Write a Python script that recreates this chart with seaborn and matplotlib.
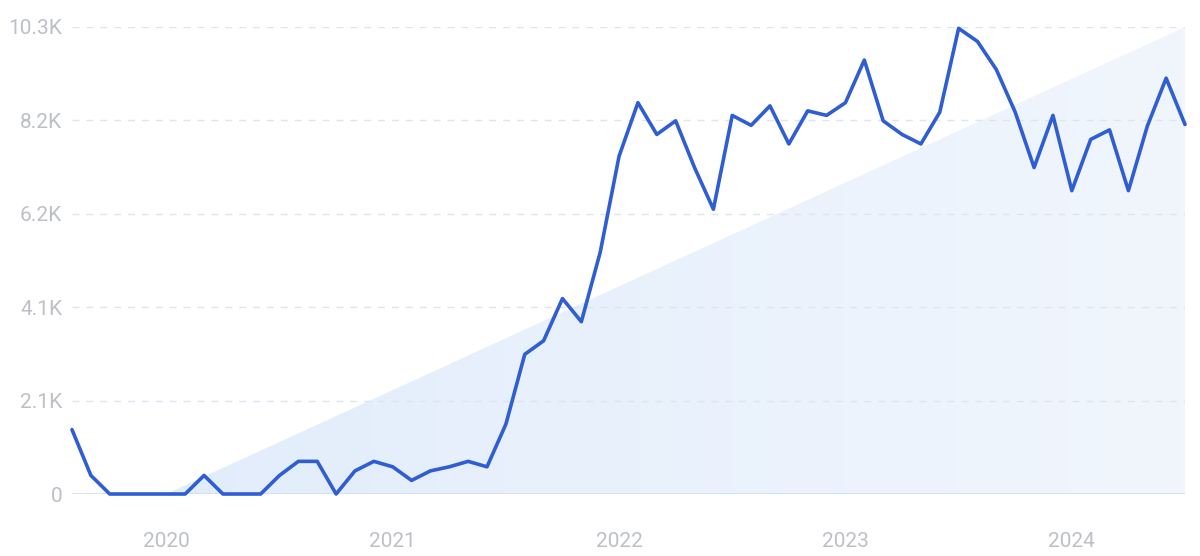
import matplotlib
matplotlib.use("Agg")
import matplotlib.pyplot as plt
import numpy as np
import pandas as pd
import seaborn as sns
from matplotlib.patches import Polygon
from matplotlib.colors import LinearSegmentedColormap

# Monthly search volume, Aug 2019 - Jul 2024 (in thousands)
months = pd.date_range("2019-08-01", "2024-07-01", freq="MS").strftime("%Y-%m").tolist()
volume_k = [
    1.42, 0.41, 0.0, 0.0, 0.0,                      # 2019
    0.0, 0.0, 0.41, 0.0, 0.0, 0.0, 0.41, 0.72, 0.72, 0.0, 0.51, 0.72,   # 2020
    0.60, 0.30, 0.51, 0.60, 0.72, 0.60, 1.54, 3.08, 3.38, 4.31, 3.80, 5.33,  # 2021
    7.45, 8.63, 7.93, 8.23, 7.20, 6.28, 8.35, 8.13, 8.56, 7.72, 8.45, 8.35,  # 2022
    8.63, 9.57, 8.23, 7.93, 7.72, 8.42, 10.27, 9.98, 9.36, 8.42, 7.20, 8.35,  # 2023
    6.69, 7.82, 8.03, 6.69, 8.11, 9.17, 8.15,       # 2024
]
y_ticks = [0, 2.06, 4.12, 6.18, 8.24, 10.3]
y_labels = ["0", "2.1K", "4.1K", "6.2K", "8.2K", "10.3K"]
year_labels = ["2020", "2021", "2022", "2023", "2024"]
trend_start, trend_end = "2020-01", "2024-07"

df = pd.DataFrame({"month": months, "volume": volume_k})
df["idx"] = np.arange(len(df))

sns.set_theme(style="white")
plt.rcParams["font.family"] = ["Roboto", "DejaVu Sans"]

fig = plt.figure(figsize=(12, 5.56), dpi=100)
ax = fig.add_axes([0.06, 0.1115, 0.9275, 0.84])

ymax = y_ticks[-1]
n = len(df)
x0 = months.index(trend_start)
x1 = months.index(trend_end)

# gradient-filled trend triangle
grad = np.vstack([np.linspace(0, 1, 256)] * 2)
cmap = LinearSegmentedColormap.from_list("tri", ["#e2edfb", "#f1f6fd"])
img = ax.imshow(grad, extent=[x0, x1, 0, ymax], aspect="auto", cmap=cmap,
                origin="lower", zorder=0)
tri = Polygon([[x0, 0], [x1, 0], [x1, ymax]], closed=True, transform=ax.transData,
              facecolor="none", edgecolor="none")
ax.add_patch(tri)
img.set_clip_path(tri)

# grid lines
for t in y_ticks[1:]:
    ax.axhline(t, color="#dde5f0", lw=1, ls=(0, (5, 5)), zorder=1)
ax.axhline(0, color="#d3e1f6", lw=1.4, zorder=1)

sns.lineplot(data=df, x="idx", y="volume", ax=ax, color="#2f5dd4", lw=2.6,
             zorder=3, clip_on=False)

ax.set_xlim(0, n - 1)
ax.set_ylim(0, ymax)
ax.set_yticks(y_ticks)
ax.set_yticklabels(y_labels)
year_pos = [months.index(f"{y}-01") for y in year_labels]
ax.set_xticks(year_pos)
ax.set_xticklabels(year_labels)
ax.tick_params(axis="both", length=0, labelsize=15, labelcolor="#bdc0c7")
ax.tick_params(axis="x", pad=27)
ax.tick_params(axis="y", pad=7)
ax.set_xlabel("")
ax.set_ylabel("")
for s in ax.spines.values():
    s.set_visible(False)

fig.savefig("out.png", dpi=100, facecolor="white")
